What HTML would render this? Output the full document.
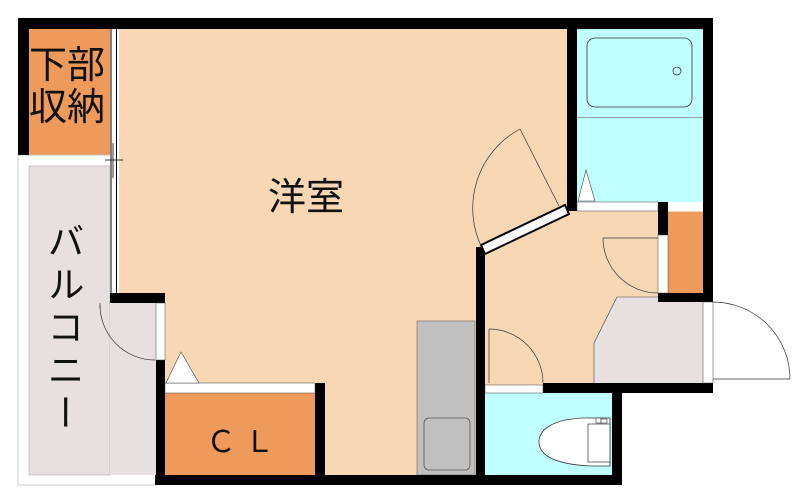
<!DOCTYPE html>
<html><head><meta charset="utf-8"><style>
html,body{margin:0;padding:0;background:#fff;width:800px;height:503px;overflow:hidden;position:relative}
svg{display:block}
text{font-family:"Liberation Sans","Noto Sans CJK JP",sans-serif;fill:#111}
.v{position:absolute;left:42px;top:222px;writing-mode:vertical-rl;font-family:"Liberation Sans","Noto Sans CJK JP",sans-serif;font-size:37px;line-height:40px;letter-spacing:6px;color:#111}
</style></head><body>
<svg width="800" height="503" viewBox="0 0 800 503" xmlns="http://www.w3.org/2000/svg">
<rect x="119" y="29" width="450" height="450" fill="#F8D7B5"/>
<rect x="485" y="211" width="220" height="175" fill="#F8D7B5"/>
<rect x="29" y="29" width="81" height="126" fill="#EE9A5A"/>
<rect x="18" y="155" width="92" height="330" fill="#fff"/>
<rect x="110" y="303" width="46" height="182" fill="#fff"/>
<path d="M18,155 L110,155 M18,155 L18,485 L156,485" fill="none" stroke="#bbb" stroke-width="0.8"/>
<rect x="29" y="166" width="81" height="309" fill="#E8E0E0" stroke="#aaa" stroke-width="0.6"/>
<rect x="110" y="303" width="46" height="172" fill="#E8E0E0"/>
<rect x="577" y="29" width="126" height="173" fill="#C0FFFF"/>
<rect x="577" y="117" width="126" height="0.8" fill="#888"/>
<rect x="587" y="38" width="105" height="69" rx="8" fill="none" stroke="#333" stroke-width="0.8"/>
<circle cx="677" cy="71" r="4" fill="none" stroke="#333" stroke-width="0.8"/>
<rect x="668" y="212" width="35" height="81" fill="#EE9A5A"/>
<polygon points="617,297 703,297 703,383 594,383 594,343" fill="#E8E0E0"/>
<line x1="617" y1="297" x2="594" y2="343" stroke="#444" stroke-width="0.6"/>
<line x1="594" y1="343" x2="594" y2="383" stroke="#444" stroke-width="0.6"/>
<line x1="617" y1="297" x2="660" y2="297" stroke="#444" stroke-width="0.6"/>
<rect x="485" y="393" width="127" height="82" fill="#C0FFFF"/>
<rect x="417" y="321" width="58" height="154" fill="#C0C0C0" stroke="#666" stroke-width="0.6"/>
<rect x="424" y="418" width="46" height="52" rx="5" fill="none" stroke="#555" stroke-width="0.8"/>
<rect x="165" y="393" width="150" height="82" fill="#EE9A5A"/>
<path d="M610,418 L582,418 C548,420 539,432 539,442 C539,454 552,464 590,466 L610,466 Z" fill="#fff" stroke="#333" stroke-width="0.8"/>
<rect x="588" y="424" width="22" height="38" fill="#fff" stroke="#333" stroke-width="0.7"/>
<rect x="596" y="418" width="5" height="5" fill="#fff" stroke="#333" stroke-width="0.6"/>
<rect x="601" y="419" width="6" height="4" fill="#fff" stroke="#333" stroke-width="0.6"/>
<g fill="#000">
<rect x="18" y="18" width="695" height="11"/>
<rect x="18" y="18" width="11" height="137"/>
<rect x="110" y="293" width="55" height="10"/>
<rect x="156" y="360" width="9" height="125"/>
<rect x="155" y="475" width="467" height="10"/>
<rect x="315" y="383" width="10" height="92"/>
<rect x="567" y="18" width="10" height="193"/>
<rect x="703" y="18" width="10" height="284"/>
<rect x="658" y="202" width="10" height="100"/>
<rect x="658" y="293" width="55" height="9"/>
<rect x="476" y="247" width="9" height="238"/>
<rect x="543" y="383" width="170" height="10"/>
<rect x="612" y="383" width="10" height="102"/>
</g>
<rect x="110" y="29" width="9" height="264" fill="#fff"/>
<line x1="111" y1="29" x2="111" y2="293" stroke="#000" stroke-width="1"/>
<line x1="116.5" y1="29" x2="116.5" y2="293" stroke="#000" stroke-width="1"/>
<line x1="105" y1="160" x2="123" y2="160" stroke="#000" stroke-width="0.8"/>
<line x1="113" y1="143" x2="113" y2="178" stroke="#000" stroke-width="0.8"/>
<rect x="156" y="303" width="9" height="57" fill="#fff" stroke="#444" stroke-width="0.5"/>
<rect x="165" y="383" width="150" height="10" fill="#fff" stroke="#444" stroke-width="0.5"/>
<rect x="577" y="202" width="81" height="9" fill="#fff" stroke="#444" stroke-width="0.5"/>
<rect x="658" y="235" width="10" height="58" fill="#fff" stroke="#444" stroke-width="0.5"/>
<rect x="703" y="302" width="10" height="81" fill="#fff" stroke="#444" stroke-width="0.5"/>
<rect x="485" y="385" width="58" height="8" fill="#fff" stroke="#444" stroke-width="0.5"/>
<polygon points="481,245 565,205 569,214 485,254" fill="#fff" stroke="#000" stroke-width="2"/>
<polygon points="166,383 181,352 199,383" fill="#fff" stroke="#444" stroke-width="0.6"/>
<polygon points="578,201 586,170 595,201" fill="#fff" stroke="#444" stroke-width="0.6"/>
<g fill="none" stroke="#333" stroke-width="0.7">
<path d="M100,305 A55,55 0 0 0 155,360"/>
<line x1="100" y1="303" x2="100" y2="308"/>
<path d="M520,129 A90,90 0 0 0 482,248"/>
<line x1="520" y1="129" x2="559" y2="206"/>
<path d="M603,238 A55,55 0 0 0 658,293"/>
<line x1="603" y1="238" x2="658" y2="238"/>
<path d="M489,329 A54,54 0 0 1 543,383"/>
<line x1="489" y1="329" x2="489" y2="383"/>
<path d="M713,302 A77,77 0 0 1 790,379"/>
<line x1="713" y1="379" x2="790" y2="379"/>
</g>
<text x="29" y="78" font-size="38">下部</text>
<text x="29" y="120" font-size="38">収納</text>
<text x="268" y="210" font-size="38">洋室</text>
<text x="206" y="452" font-size="30">Ｃ Ｌ</text>
</svg>
<div class="v">バルコニー</div>
</body></html>
